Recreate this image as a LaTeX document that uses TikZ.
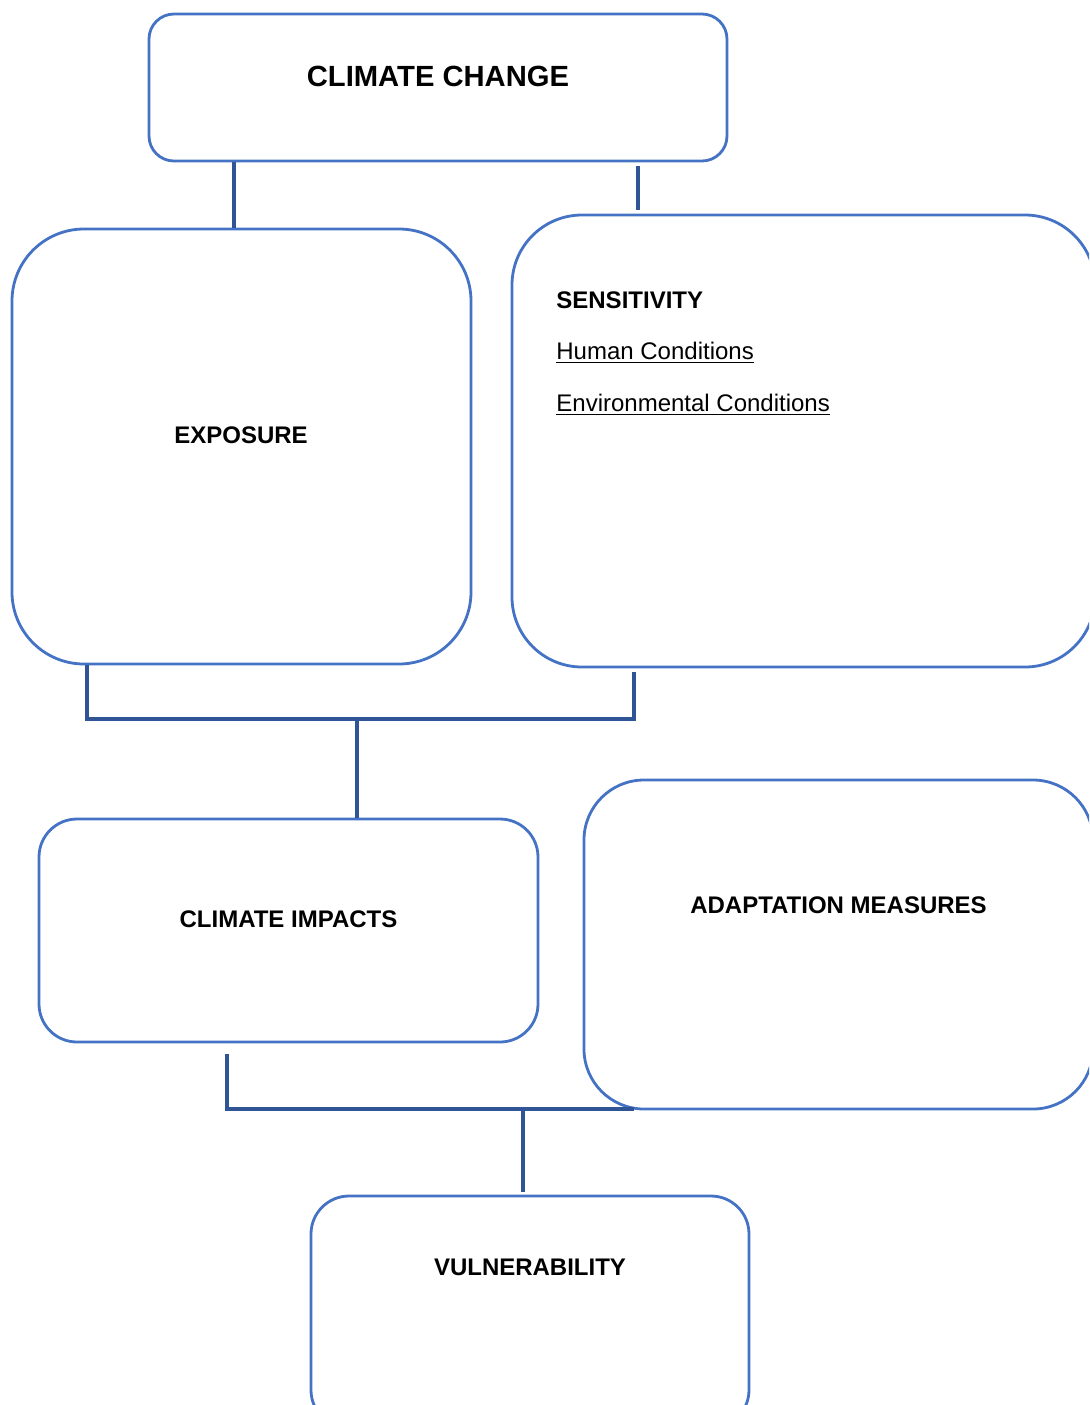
\documentclass[tikz,border=0pt]{standalone}
\usepackage{fontspec}
\setmainfont{Liberation Sans}
\definecolor{boxblue}{HTML}{4472C4}
\definecolor{linkblue}{HTML}{2F5597}
\tikzset{
	box/.style={draw=boxblue, line width=1.4pt, rounded corners=#1, inner sep=0pt},
	link/.style={draw=linkblue, line width=1.6pt},
	lbl/.style={inner sep=0pt, font=\bfseries\fontsize{12}{14}\selectfont},
	txt/.style={inner sep=0pt, font=\fontsize{12}{14}\selectfont},
	titlelbl/.style={inner sep=0pt, font=\bfseries\fontsize{14.6}{17}\selectfont}
}
\begin{document}
\begin{tikzpicture}[x=0.5pt,y=-0.5pt]
		\useasboundingbox (0,0) rectangle (1089,1405);
		\clip (0,0) rectangle (1089,1405);
		% boxes
		\node[box=12.5pt, minimum width=289pt, minimum height=73.5pt] (change) at (438,87.5) {};
		\node[box=36pt, minimum width=229.5pt, minimum height=217.5pt] (expo) at (241.5,446.5) {};
		\node[box=35pt, minimum width=291.5pt, minimum height=226pt] (sens) at (803.5,441) {};
		\node[box=19pt, minimum width=249.5pt, minimum height=111.5pt] (impacts) at (288.5,930.5) {};
		\node[box=30pt, minimum width=254.5pt, minimum height=164.5pt] (adapt) at (838.5,944.5) {};
		\node[box=19pt, minimum width=219pt, minimum height=116pt] (vuln) at (530,1312) {};
		% labels
		\node[titlelbl] (changelbl) at (438,76) {CLIMATE CHANGE};
		\node[lbl] (expolbl) at (241,435) {EXPOSURE};
		\node[lbl, anchor=base west] (senslbl) at (556,308) {SENSITIVITY};
		\node[txt, anchor=base west] (humanlbl) at (556,359) {\underline{Human Conditions}};
		\node[txt, anchor=base west] (envlbl) at (556,411) {\underline{Environmental Conditions}};
		\node[lbl] (impactslbl) at (288.5,919) {CLIMATE IMPACTS};
		\node[lbl] (adaptlbl) at (838.5,905) {ADAPTATION MEASURES};
		\node[lbl] (vulnlbl) at (530,1267) {VULNERABILITY};
		% connectors
		\coordinate (k0) at (234,0);
		\coordinate (k1) at (638,0);
		\coordinate (k2) at (87,0);
		\coordinate (k3) at (634,0);
		\coordinate (k4) at (227,0);
		\coordinate (j1) at (357,719);
		\coordinate (j2) at (523,1109);
		\draw[link] (change.south -| k0) -- (expo.north -| k0);
		\draw[link] ([yshift=-2pt]change.south -| k1) -- ([yshift=2pt]sens.north -| k1);
		\draw[link] (expo.south -| k2) |- (j1) -| ([yshift=-2pt]sens.south -| k3);
		\draw[link] (j1) -- (impacts.north -| j1);
		\draw[link] ([yshift=-5.5pt]impacts.south -| k4) |- (j2) -- (j2 -| k3);
		\draw[link] (j2) -- ([yshift=1.5pt]vuln.north -| j2);
\end{tikzpicture}
\end{document}
